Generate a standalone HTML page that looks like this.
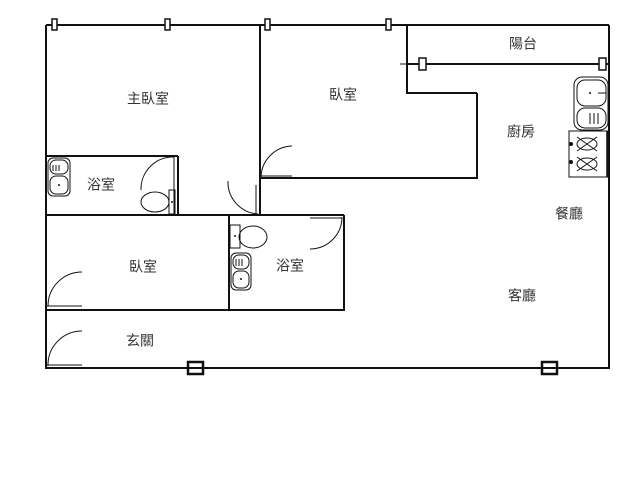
<!DOCTYPE html>
<html><head><meta charset="utf-8"><style>
html,body{margin:0;padding:0;background:#fff;}
svg{display:block}
text{font-family:"Liberation Sans","Noto Sans CJK TC",sans-serif;font-size:14px;fill:#333;text-anchor:middle;dominant-baseline:middle}
</style></head><body>
<svg width="640" height="480" viewBox="0 0 640 480" xmlns="http://www.w3.org/2000/svg">
<g stroke="#111" stroke-width="2" fill="none">
<line x1="46" y1="25" x2="609" y2="25"/>
<line x1="46" y1="25" x2="46" y2="369"/>
<line x1="609" y1="25" x2="609" y2="369"/>
<line x1="46" y1="368" x2="609" y2="368"/>
<line x1="407" y1="64" x2="609" y2="64"/>
<line x1="407" y1="25" x2="407" y2="94"/>
<line x1="407" y1="93" x2="477" y2="93"/>
<line x1="477" y1="93" x2="477" y2="179"/>
<line x1="260" y1="178" x2="477" y2="178"/>
<line x1="260" y1="25" x2="260" y2="215"/>
<line x1="46" y1="156" x2="178" y2="156"/>
<line x1="178" y1="156" x2="178" y2="215"/>
<line x1="46" y1="215" x2="344" y2="215"/>
<line x1="344" y1="215" x2="344" y2="311"/>
<line x1="46" y1="310" x2="344" y2="310"/>
<line x1="229" y1="215" x2="229" y2="311"/>
</g>
<g stroke="#111" stroke-width="1" fill="none">
<line x1="174" y1="156" x2="174" y2="215"/>
<line x1="256" y1="185" x2="256" y2="215"/>
<path d="M174 157 A32 32 0 0 0 141 190"/>
<path d="M228 181 A32 32 0 0 0 258 214"/>
<path d="M292 146 A32 32 0 0 0 261 177"/>
<line x1="261" y1="176" x2="292" y2="176"/>
<path d="M82 272 A34 34 0 0 0 48 306"/>
<line x1="47" y1="306" x2="82" y2="306"/>
<path d="M82 331 A34 34 0 0 0 48 366"/>
<line x1="47" y1="365" x2="82" y2="365"/>
<path d="M342 217 A32 32 0 0 1 310 249"/>
<line x1="310" y1="218" x2="342" y2="218"/>
<rect x="169" y="190" width="6" height="24"/>
<ellipse cx="155" cy="202" rx="14" ry="10"/>
<rect x="230" y="225" width="10" height="23"/>
<ellipse cx="253" cy="237" rx="14" ry="11"/>
<rect x="48" y="158" width="22" height="38" rx="5"/>
<rect x="50" y="160" width="18" height="14" rx="6"/>
<rect x="50" y="176" width="18" height="18" rx="6"/>
<rect x="231" y="253" width="20" height="37" rx="5"/>
<rect x="233" y="255" width="16" height="14" rx="6"/>
<rect x="233" y="271" width="16" height="17" rx="6"/>
<rect x="574" y="77" width="34" height="53" rx="8"/>
<rect x="577" y="80" width="29" height="26" rx="8"/>
<rect x="577" y="108" width="29" height="20" rx="8"/>
<line x1="590" y1="113" x2="590" y2="124"/><line x1="594" y1="113" x2="594" y2="124"/><line x1="598" y1="113" x2="598" y2="124"/>
<line x1="598" y1="93" x2="606" y2="93"/>
<rect x="569" y="131" width="39" height="46"/>
<path d="M577 137 L597 151 M597 137 L577 151 M577 157 L597 171 M597 157 L577 171"/>
<ellipse cx="587" cy="144" rx="10" ry="6"/><ellipse cx="587" cy="164" rx="10" ry="6"/>
<line x1="400" y1="25" x2="412" y2="25"/>
<line x1="400" y1="64" x2="412" y2="64"/>
<line x1="53" y1="165" x2="53" y2="171"/><line x1="56" y1="165" x2="56" y2="171"/><line x1="59" y1="165" x2="59" y2="171"/>
<line x1="236" y1="259" x2="236" y2="266"/><line x1="239" y1="259" x2="239" y2="266"/><line x1="242" y1="259" x2="242" y2="266"/>
</g>
<g stroke="#111" stroke-width="1.5"><line x1="607" y1="131" x2="607" y2="177"/></g>
<g fill="#111">
<circle cx="571" cy="144" r="2"/><circle cx="571" cy="162" r="2"/>
<circle cx="590" cy="93" r="1"/><circle cx="59" cy="185" r="1"/><circle cx="241" cy="279" r="1"/>
<circle cx="172" cy="202" r="1"/><circle cx="235" cy="236" r="1"/>
</g>
<g stroke="#111" stroke-width="1.5" fill="#fff">
<rect x="52" y="19" width="5" height="11"/>
<rect x="165" y="19" width="5" height="11"/>
<rect x="265" y="19" width="5" height="11"/>
<rect x="386" y="19" width="5" height="11"/>
<rect x="419" y="58" width="7" height="12"/>
<rect x="599" y="58" width="7" height="12"/>
</g>
<g stroke="#111" stroke-width="2.5" fill="#fff">
<rect x="188" y="362" width="15" height="12"/>
<rect x="542" y="362" width="15" height="12"/>
</g>
<g stroke="#111" stroke-width="2">
<line x1="188" y1="368" x2="203" y2="368"/><line x1="542" y1="368" x2="557" y2="368"/>
</g>
<text x="148" y="100">主臥室</text>
<text x="343" y="96">臥室</text>
<text x="523" y="45">陽台</text>
<text x="521" y="133">廚房</text>
<text x="101" y="186">浴室</text>
<text x="569" y="215">餐廳</text>
<text x="143" y="268">臥室</text>
<text x="290" y="267">浴室</text>
<text x="522" y="297">客廳</text>
<text x="140" y="342">玄關</text>
</svg>
</body></html>
